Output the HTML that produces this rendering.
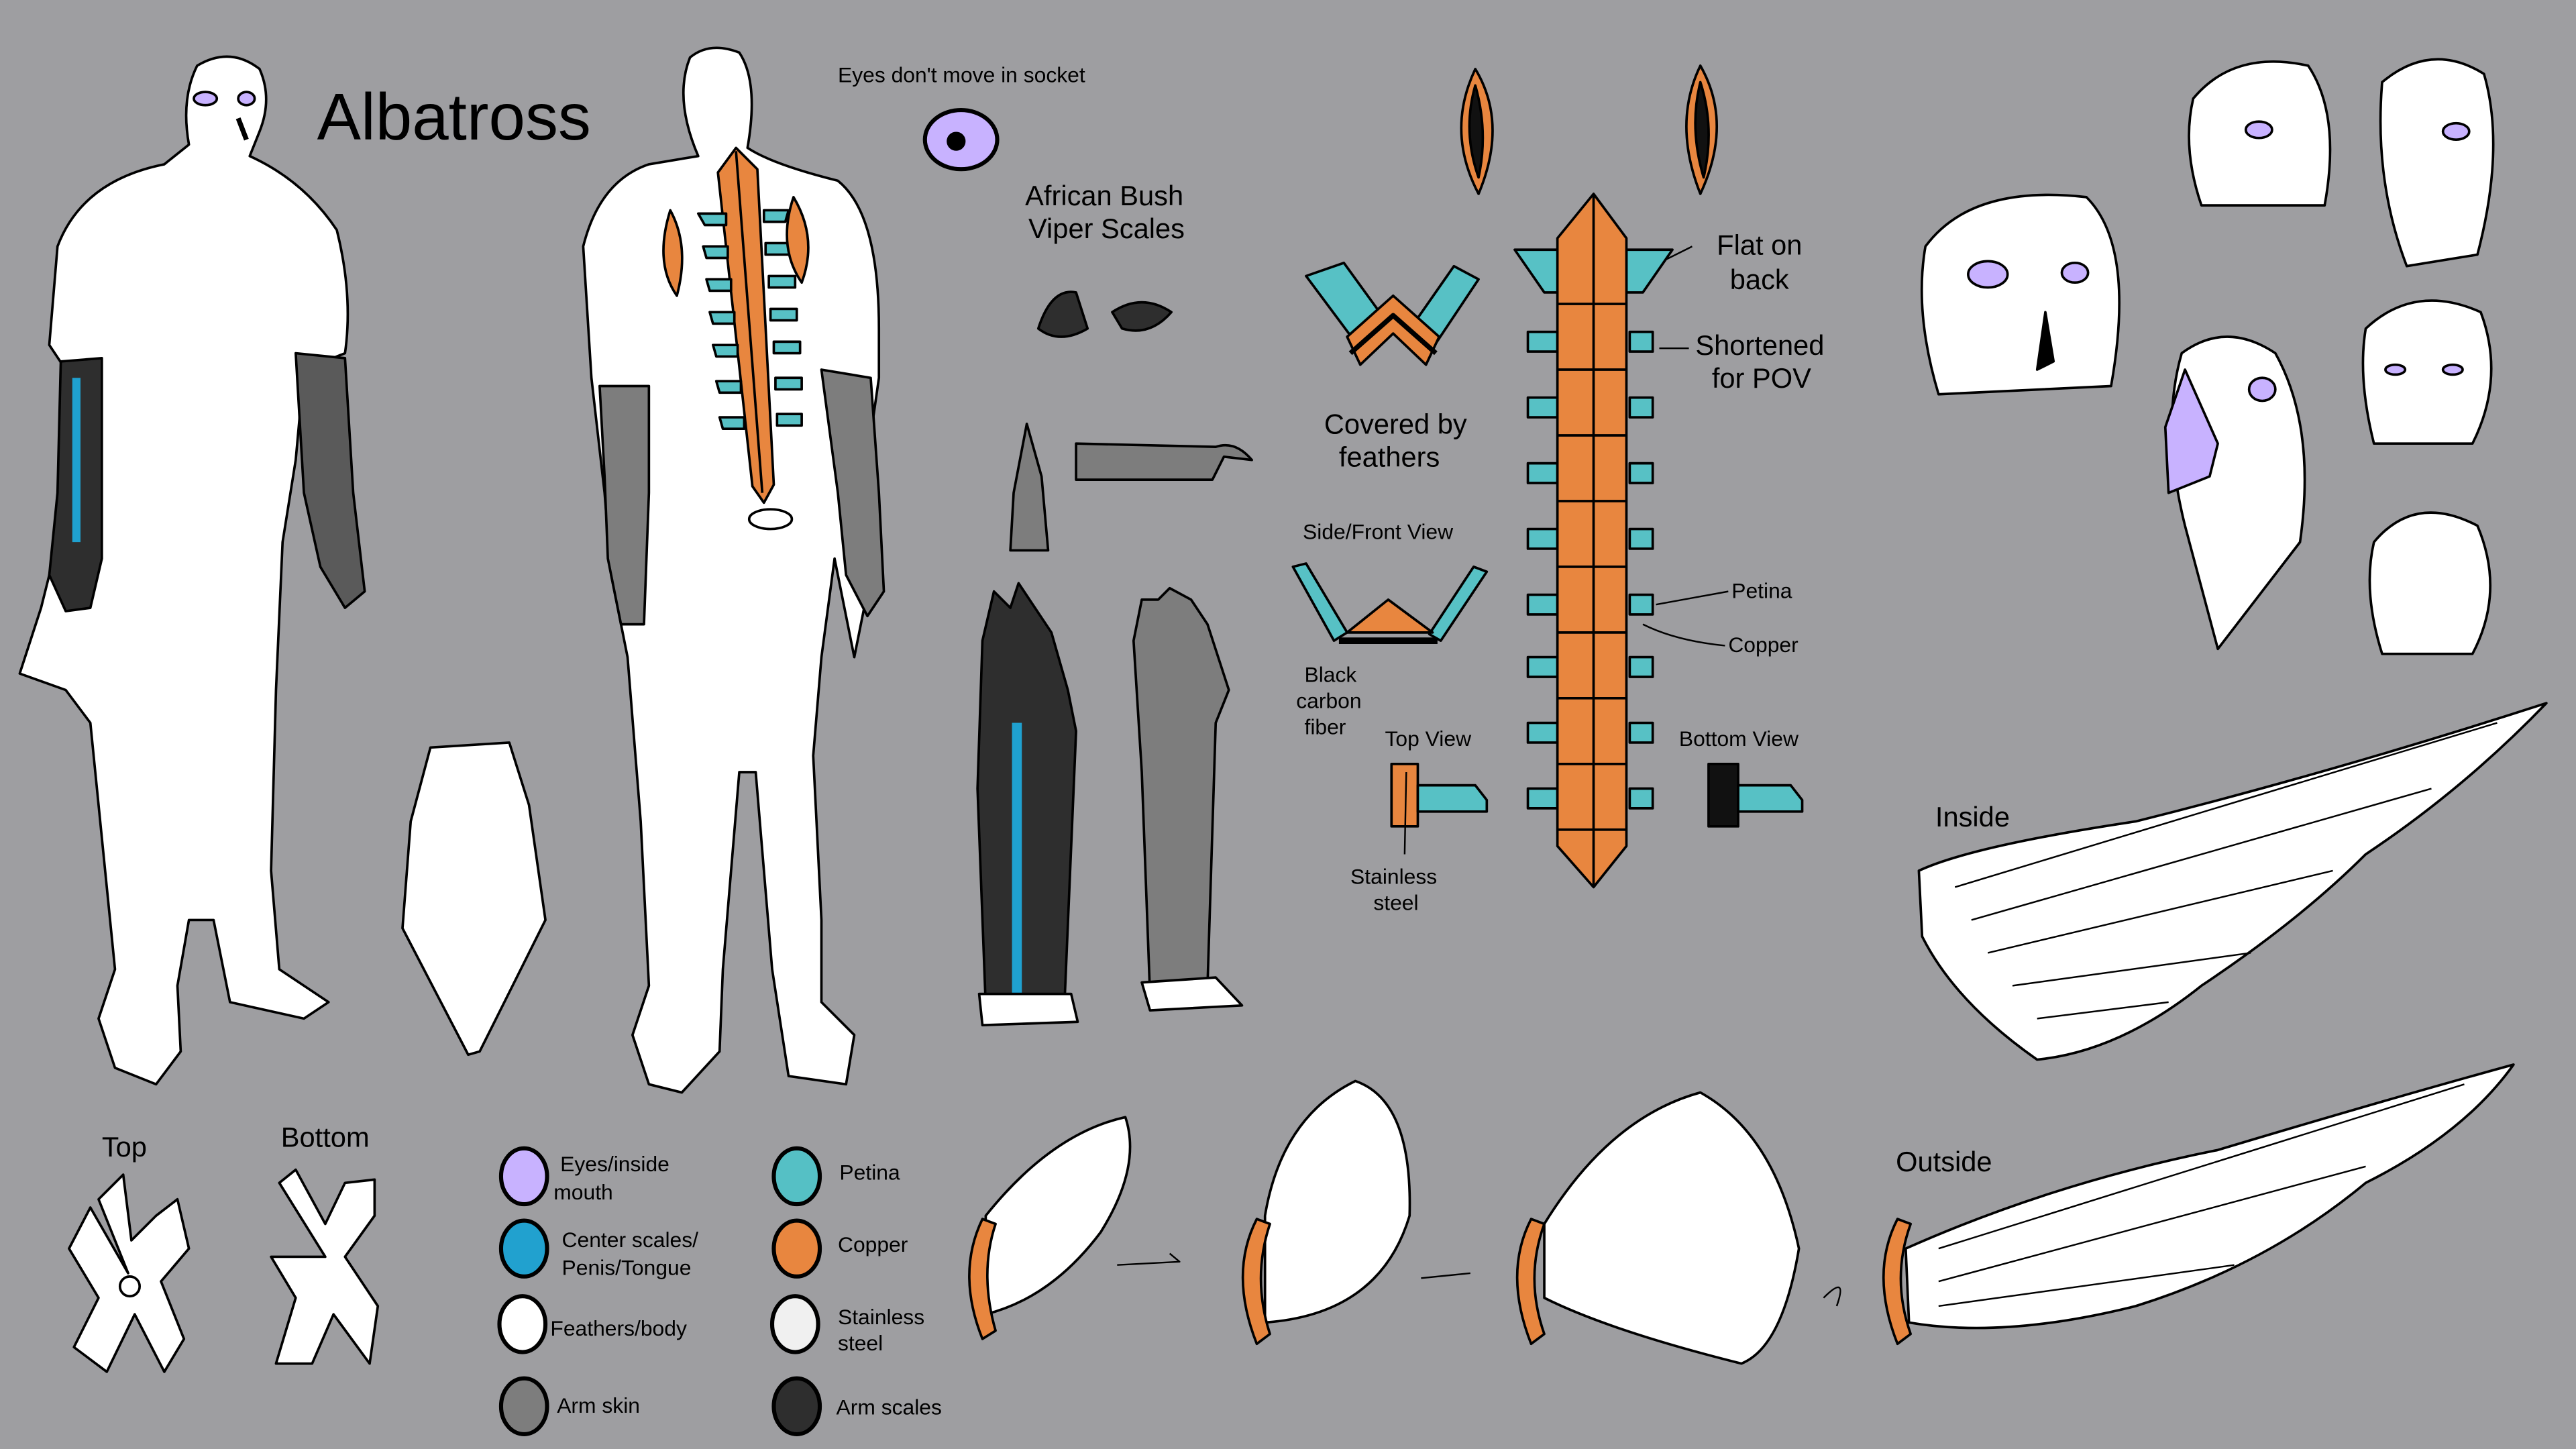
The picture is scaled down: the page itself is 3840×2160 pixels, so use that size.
<!DOCTYPE html>
<html><head><meta charset="utf-8"><style>
html,body{margin:0;padding:0;background:#9e9ea1;}
svg{display:block}
text{font-family:"Liberation Sans",sans-serif;fill:#000}
</style></head><body>
<svg width="3840" height="2160" viewBox="0 0 1568 882" preserveAspectRatio="none" xmlns="http://www.w3.org/2000/svg">
<rect width="1568" height="882" fill="#9e9ea1"/>
<g stroke="#000" stroke-width="1.5" stroke-linejoin="round">
<!-- front body -->
<path fill="#fff" d="M120,40 Q140,28 158,42 Q166,60 158,80 L152,95 Q185,110 205,140 Q215,180 210,215 L185,225 L180,280 L172,330 L168,420 L165,530 L170,590 L200,610 L185,620 L140,610 L130,560 L115,560 L108,600 L110,640 L95,660 L70,650 L60,620 L70,590 L65,540 L55,440 L40,420 L12,410 L25,370 L35,330 L40,225 L30,210 L35,150 Q50,110 100,100 L115,88 Q110,60 120,40Z"/>
<path fill="#2e2e2e" d="M37,220 L62,218 L62,340 L55,370 L40,372 L30,350 L35,300Z"/>
<path fill="#1fa1d0" stroke="none" d="M44,230 L49,230 L49,330 L44,330Z"/>
<path fill="#5a5a5a" d="M180,215 L210,218 L215,300 L222,360 L210,370 L195,345 L185,300Z"/>
<ellipse cx="125" cy="60" rx="7" ry="4" fill="#c8b2ff"/>
<ellipse cx="150" cy="60" rx="5" ry="4" fill="#c8b2ff"/>
<path d="M145,72 L150,85" fill="none" stroke-width="3"/>
<!-- back body -->
<path fill="#fff" d="M420,35 Q432,25 450,32 Q462,50 455,90 Q470,100 510,110 Q535,130 535,200 L535,230 L525,300 L528,360 L520,400 L508,340 L500,400 L495,460 L500,560 L500,610 L520,630 L515,660 L480,655 L470,590 L460,470 L450,470 L440,590 L438,640 L415,665 L395,660 L385,630 L395,600 L390,500 L382,400 L372,350 L368,300 L360,230 L355,150 Q365,110 395,100 L425,95 Q410,60 420,35Z"/>
<path fill="#7d7d7d" d="M365,235 L395,235 L395,300 L392,380 L378,380 L370,340 L368,290Z"/>
<path fill="#7d7d7d" d="M500,225 L530,230 L535,300 L538,360 L528,375 L515,350 L510,300Z"/>
<path fill="#e8863f" d="M437,105 L448,90 L461,103 L471,295 L465,306 L458,296Z"/>
<path fill="none" d="M448,92 L464,300"/>
<g fill="#57c1c5">
<path d="M425,130 L442,130 L442,137 L429,137Z"/><path d="M465,128 L480,128 L478,135 L465,135Z"/>
<path d="M428,150 L443,150 L443,157 L430,157Z"/><path d="M466,148 L482,148 L482,155 L466,155Z"/>
<path d="M430,170 L445,170 L445,177 L432,177Z"/><path d="M468,168 L484,168 L484,175 L468,175Z"/>
<path d="M432,190 L447,190 L447,197 L434,197Z"/><path d="M469,188 L485,188 L485,195 L469,195Z"/>
<path d="M434,210 L449,210 L449,217 L436,217Z"/><path d="M471,208 L487,208 L487,215 L471,215Z"/>
<path d="M436,232 L451,232 L451,239 L438,239Z"/><path d="M472,230 L488,230 L488,237 L472,237Z"/>
<path d="M438,254 L453,254 L453,261 L440,261Z"/><path d="M473,252 L488,252 L488,259 L473,259Z"/>
</g>
<path fill="#e8863f" d="M408,128 Q420,150 412,180 Q398,160 408,128Z"/>
<path fill="#e8863f" d="M483,120 Q498,145 488,172 Q473,150 483,120Z"/>
<ellipse cx="469" cy="316" rx="13" ry="6" fill="#fff"/>
<!-- sash/feathers cape -->
<path fill="#fff" d="M262,455 L310,452 L322,490 L332,560 L292,640 L285,642 L245,565 L250,500Z"/>
<!-- feet top/bottom -->
<path fill="#fff" d="M78,775 L60,730 L75,715 L80,755 L95,740 L108,730 L115,760 L98,780 L112,815 L100,835 L82,800 L65,835 L45,820 L60,790 L42,760 L55,735Z"/>
<circle cx="79" cy="783" r="6" fill="none"/>
<path fill="#fff" d="M198,765 L170,720 L180,712 L198,745 L210,720 L228,718 L228,740 L210,765 L230,795 L225,830 L203,800 L190,830 L168,830 L180,790 L165,765Z"/>
<!-- eye -->
<ellipse cx="585" cy="85" rx="22" ry="18" fill="#c8b2ff" stroke-width="2.5"/>
<circle cx="582" cy="86" r="5" fill="#000"/>
<!-- viper bits -->
<path fill="#2e2e2e" d="M632,200 Q640,175 655,178 L662,200 Q645,210 632,200Z"/>
<path fill="#2e2e2e" d="M677,190 Q695,178 713,190 Q700,205 683,200Z"/>
<path fill="#7d7d7d" d="M615,335 L617,300 L625,258 L634,290 L638,335Z"/>
<path fill="#7d7d7d" d="M655,270 L740,272 Q752,268 762,280 L745,278 L738,292 L655,292Z"/>
<!-- arms -->
<path fill="#2e2e2e" d="M598,390 L605,360 L615,370 L620,355 L630,370 L640,385 L650,420 L655,445 L648,610 L600,612 L595,480Z"/>
<path fill="#1fa1d0" stroke="none" d="M616,440 L622,440 L622,605 L616,605Z"/>
<path fill="#fff" d="M596,605 L652,605 L656,622 L598,624Z"/>
<path fill="#7d7d7d" d="M690,390 L695,365 L705,365 L712,358 L725,365 L735,380 L748,420 L740,440 L735,600 L700,605 L695,470Z"/>
<path fill="#fff" d="M695,598 L740,595 L756,612 L700,615Z"/>
<!-- connector views -->
<path fill="#57c1c5" d="M795,168 L818,160 L847,200 L830,215 Z"/>
<path fill="#57c1c5" d="M885,162 L900,170 L870,215 L855,205 Z"/>
<path fill="#e8863f" d="M820,205 L848,180 L876,205 L868,222 L848,203 L828,222Z"/>
<path fill="none" stroke-width="3" d="M822,215 L848,192 L874,215"/>
<path fill="#57c1c5" d="M787,345 L795,343 L820,385 L812,390Z"/>
<path fill="#57c1c5" d="M897,345 L905,348 L877,390 L870,386Z"/>
<path fill="#e8863f" d="M820,385 L845,365 L872,385Z"/>
<path stroke-width="4" d="M815,390 L875,390"/>
<rect x="847" y="465" width="16" height="38" fill="#e8863f"/>
<path fill="#57c1c5" d="M863,478 L898,478 L905,487 L905,494 L863,494Z"/>
<rect x="1040" y="465" width="18" height="38" fill="#111"/>
<path fill="#57c1c5" d="M1058,478 L1090,478 L1097,487 L1097,494 L1058,494Z"/>
<!-- big spine -->
<g fill="#57c1c5">
<path d="M922,152 L950,152 L950,178 L940,178Z"/><path d="M990,152 L1018,152 L1000,178 L990,178Z"/>
<path d="M930,202 L948,202 L948,214 L930,214Z"/><path d="M992,202 L1006,202 L1006,214 L992,214Z"/>
<path d="M930,242 L948,242 L948,254 L930,254Z"/><path d="M992,242 L1006,242 L1006,254 L992,254Z"/>
<path d="M930,282 L948,282 L948,294 L930,294Z"/><path d="M992,282 L1006,282 L1006,294 L992,294Z"/>
<path d="M930,322 L948,322 L948,334 L930,334Z"/><path d="M992,322 L1006,322 L1006,334 L992,334Z"/>
<path d="M930,362 L948,362 L948,374 L930,374Z"/><path d="M992,362 L1006,362 L1006,374 L992,374Z"/>
<path d="M930,400 L948,400 L948,412 L930,412Z"/><path d="M992,400 L1006,400 L1006,412 L992,412Z"/>
<path d="M930,440 L948,440 L948,452 L930,452Z"/><path d="M992,440 L1006,440 L1006,452 L992,452Z"/>
<path d="M930,480 L948,480 L948,492 L930,492Z"/><path d="M992,480 L1006,480 L1006,492 L992,492Z"/>
</g>
<path fill="#e8863f" d="M948,145 L970,118 L990,145 L990,515 L970,540 L948,515Z"/>
<path fill="none" d="M970,118 L970,540 M948,185 L990,185 M948,225 L990,225 M948,265 L990,265 M948,305 L990,305 M948,345 L990,345 M948,385 L990,385 M948,425 L990,425 M948,465 L990,465 M948,505 L990,505"/>
<path fill="#e8863f" d="M898,42 Q918,75 900,118 Q880,80 898,42Z"/>
<path fill="#111" d="M898,52 Q906,80 900,108 Q890,80 898,52Z"/>
<path fill="#e8863f" d="M1035,40 Q1055,75 1035,118 Q1018,75 1035,40Z"/>
<path fill="#111" d="M1035,50 Q1044,78 1037,108 Q1028,78 1035,50Z"/>
<path fill="none" stroke-width="1" d="M1030,150 L1014,158 M1028,212 L1010,212 M1052,360 L1008,368 M1050,393 Q1020,390 1000,380 M856,470 L855,520"/>
<!-- heads -->
<path fill="#fff" d="M1335,60 Q1360,30 1405,40 Q1425,70 1415,125 L1340,125 Q1328,90 1335,60Z"/>
<path fill="#fff" d="M1450,50 Q1480,25 1512,45 Q1525,90 1508,155 L1465,162 Q1445,110 1450,50Z"/>
<path fill="#fff" d="M1172,150 Q1200,112 1270,120 Q1300,150 1285,235 L1180,240 Q1165,190 1172,150Z"/>
<path fill="#fff" d="M1440,200 Q1470,172 1510,190 Q1525,230 1505,270 L1445,270 Q1435,230 1440,200Z"/>
<path fill="#fff" d="M1328,215 Q1355,195 1385,215 Q1410,260 1400,330 L1350,395 L1330,320 Q1315,260 1328,215Z"/>
<path fill="#c8b2ff" d="M1330,225 L1350,270 L1345,290 L1320,300 L1318,260Z"/>
<path fill="#fff" d="M1445,330 Q1470,300 1508,320 Q1525,360 1505,398 L1450,398 Q1438,360 1445,330Z"/>
<g fill="#c8b2ff"><ellipse cx="1375" cy="79" rx="8" ry="5"/><ellipse cx="1495" cy="80" rx="8" ry="5"/><ellipse cx="1210" cy="167" rx="12" ry="8"/><ellipse cx="1263" cy="166" rx="8" ry="6"/><ellipse cx="1377" cy="237" rx="8" ry="7"/><ellipse cx="1458" cy="225" rx="6" ry="3"/><ellipse cx="1493" cy="225" rx="6" ry="3"/></g>
<path d="M1245,190 L1250,220 L1240,225Z" fill="#000"/>
<!-- inside wing -->
<path fill="#fff" d="M1168,530 Q1200,515 1300,500 Q1420,470 1550,428 Q1500,480 1440,520 Q1400,560 1340,600 Q1290,640 1240,645 Q1190,610 1170,570Z"/>
<path fill="none" stroke-width="1" d="M1190,540 L1520,440 M1200,560 L1480,480 M1210,580 L1420,530 M1225,600 L1370,580 M1240,620 L1320,610"/>
<!-- outside wing sequence -->
<path fill="#fff" d="M1160,760 Q1250,720 1350,700 Q1450,670 1530,648 Q1500,690 1440,720 Q1380,770 1300,795 Q1220,815 1162,805Z"/>
<path fill="none" stroke-width="1" d="M1180,760 L1500,660 M1180,780 L1440,710 M1180,795 L1360,770"/>
<path fill="#fff" d="M600,740 Q640,690 685,680 Q695,710 670,750 Q640,790 600,800Z"/>
<path fill="#fff" d="M770,740 Q780,680 825,658 Q860,670 858,740 Q840,800 770,805Z"/>
<path fill="#fff" d="M940,745 Q980,680 1035,665 Q1080,690 1095,760 Q1085,820 1060,830 Q980,810 940,790Z"/>
<g fill="#e8863f">
<path d="M598,742 Q582,775 598,815 L606,810 Q596,775 606,745Z"/>
<path d="M765,742 Q748,775 765,818 L773,812 Q762,778 773,745Z"/>
<path d="M932,742 Q915,775 932,818 L940,812 Q928,778 940,745Z"/>
<path d="M1155,742 Q1138,775 1155,818 L1163,812 Q1151,778 1163,745Z"/>
</g>
<path fill="none" stroke-width="1" d="M680,770 L718,768 L712,763 M865,778 L895,775 M1110,790 Q1125,775 1118,795"/>
<!-- legend -->
<g stroke-width="2.5">
<ellipse cx="319" cy="716" rx="14" ry="17" fill="#c8b2ff"/>
<ellipse cx="319" cy="760" rx="14" ry="17" fill="#21a1cf"/>
<ellipse cx="318" cy="806" rx="14" ry="17" fill="#fff"/>
<ellipse cx="319" cy="856" rx="14" ry="17" fill="#7d7d7d"/>
<ellipse cx="485" cy="716" rx="14" ry="17" fill="#55c0c5"/>
<ellipse cx="485" cy="760" rx="14" ry="17" fill="#e8863f"/>
<ellipse cx="484" cy="806" rx="14" ry="17" fill="#f0f0f0"/>
<ellipse cx="485" cy="856" rx="14" ry="17" fill="#2e2e2e"/>
</g>
</g>
<g>
<text x="193" y="85" font-size="40">Albatross</text>
<text x="510" y="50" font-size="13">Eyes don't move in socket</text>
<text x="624" y="125" font-size="17">African Bush</text>
<text x="626" y="145" font-size="17">Viper Scales</text>
<text x="806" y="264" font-size="17">Covered by</text>
<text x="815" y="284" font-size="17">feathers</text>
<text x="793" y="328" font-size="13">Side/Front View</text>
<text x="794" y="415" font-size="13">Black</text>
<text x="789" y="431" font-size="13">carbon</text>
<text x="794" y="447" font-size="13">fiber</text>
<text x="843" y="454" font-size="13">Top View</text>
<text x="1022" y="454" font-size="13">Bottom View</text>
<text x="822" y="538" font-size="13">Stainless</text>
<text x="836" y="554" font-size="13">steel</text>
<text x="1045" y="155" font-size="17">Flat on</text>
<text x="1053" y="176" font-size="17">back</text>
<text x="1032" y="216" font-size="17">Shortened</text>
<text x="1042" y="236" font-size="17">for POV</text>
<text x="1054" y="364" font-size="13">Petina</text>
<text x="1052" y="397" font-size="13">Copper</text>
<text x="1178" y="503" font-size="17">Inside</text>
<text x="1154" y="713" font-size="17">Outside</text>
<text x="62" y="704" font-size="17">Top</text>
<text x="171" y="698" font-size="17">Bottom</text>
<text x="341" y="713" font-size="13">Eyes/inside</text>
<text x="337" y="730" font-size="13">mouth</text>
<text x="342" y="759" font-size="13">Center scales/</text>
<text x="342" y="776" font-size="13">Penis/Tongue</text>
<text x="335" y="813" font-size="13">Feathers/body</text>
<text x="339" y="860" font-size="13">Arm skin</text>
<text x="511" y="718" font-size="13">Petina</text>
<text x="510" y="762" font-size="13">Copper</text>
<text x="510" y="806" font-size="13">Stainless</text>
<text x="510" y="822" font-size="13">steel</text>
<text x="509" y="861" font-size="13">Arm scales</text>
</g>
</svg>
</body></html>
